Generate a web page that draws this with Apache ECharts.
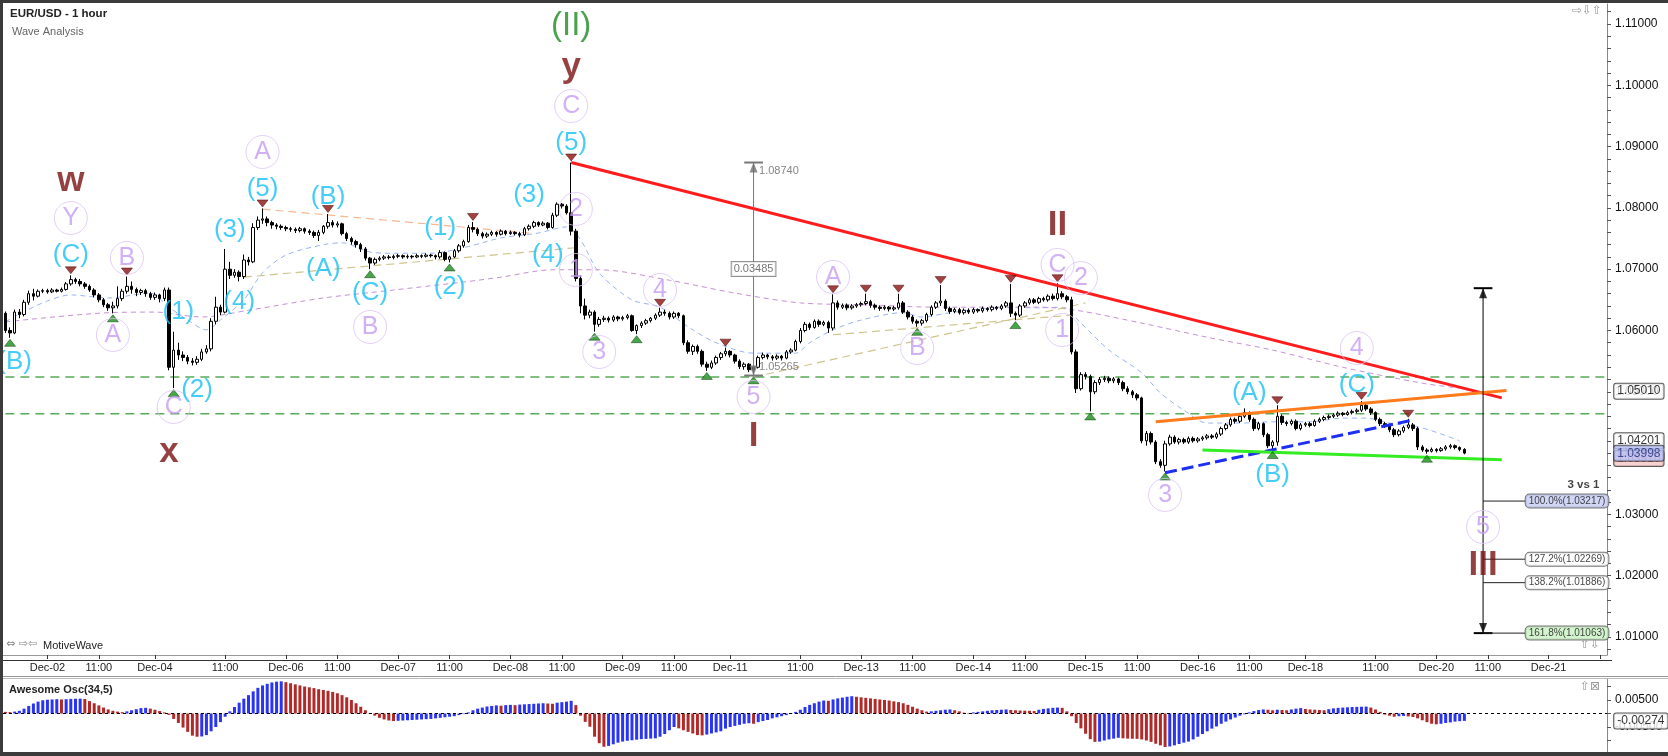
<!DOCTYPE html>
<html>
<head>
<meta charset="utf-8">
<title>EUR/USD - 1 hour</title>
<script src="https://cdn.jsdelivr.net/npm/echarts@6/dist/echarts.min.js"></script>
<style>
html, body { margin: 0; padding: 0; background: #fff; }
#chart { width: 1668px; height: 756px; }
</style>
</head>
<body>
<div id="chart"></div>
<script>
// trading sessions on the time axis: [day, first hour, last hour]
var sessions = [['Dec-01',15,23],['Dec-02',0,22],['Dec-04',20,23],['Dec-05',0,23],['Dec-06',0,23],
	['Dec-07',0,23],['Dec-08',0,23],['Dec-09',0,22],['Dec-11',20,23],['Dec-12',0,23],['Dec-13',0,23],
	['Dec-14',0,23],['Dec-15',0,23],['Dec-16',0,22],['Dec-18',20,23],['Dec-19',0,23],['Dec-20',0,23],
	['Dec-21',0,12]];
var dayLabels = ['Dec-02','Dec-04','Dec-06','Dec-07','Dec-08','Dec-09','Dec-11','Dec-13','Dec-14',
	'Dec-15','Dec-16','Dec-18','Dec-20','Dec-21'];
var hourLabel = '11:00';
var tickOnlyDay = 'Dec-21';

// hourly candles: "open close low high" in pips above 1.0000
var dec01 = ['628 600 596 631','600 596 588 605','596 630 594 634','630 626 620 635','626 646 623 650',
	'646 660 642 665','660 656 649 668','656 664 654 667','664 665 661 668'];
var dec02 = ['665 663 660 668','663 666 661 669','666 664 662 668','664 667 662 670','667 676 665 679',
	'676 683 673 690','683 680 676 686','680 676 672 684','676 672 668 679','672 666 663 675',
	'666 658 654 669','658 650 646 661','650 642 638 653','642 637 632 645','637 640 628 647',
	'640 652 636 672','652 664 648 668','664 672 660 688','672 667 660 680','667 662 656 670',
	'662 665 658 668','665 660 655 668','660 654 650 663'];
var dec04 = ['654 658 650 662','658 652 646 660','652 666 648 670','666 540 535 670'];
var dec05 = ['540 568 506 598','568 560 552 580','560 556 550 566','556 550 545 560','550 548 543 555',
	'548 553 544 558','553 565 550 570','565 570 562 576','570 615 566 620','615 638 610 655',
	'638 630 625 642','630 700 628 733','700 690 684 712','690 695 686 700','695 688 680 698',
	'688 715 684 724','715 712 706 720','712 768 710 775','768 780 764 786','780 782 774 799',
	'782 776 770 786','776 772 766 779','772 770 765 775','770 768 764 773'];
var dec06 = ['768 766 762 771','766 765 761 769','765 763 759 768','763 766 760 769','766 762 758 768',
	'762 760 756 765','760 755 751 763','755 760 746 764','760 770 757 772','770 776 766 790',
	'776 772 768 780','772 774 768 778','774 758 755 776','758 750 746 761','750 745 740 753',
	'745 740 735 748','740 733 728 743','733 718 714 736','718 710 700 720','710 716 707 719',
	'716 718 713 721','718 720 715 723','720 719 716 723','719 721 716 724'];
var dec07 = ['721 722 718 725','722 720 717 724','720 721 717 724','721 720 717 723','720 722 718 725',
	'722 721 718 724','721 723 719 726','723 722 719 725','722 720 716 724','720 727 717 731',
	'727 716 713 729','716 720 711 722','720 730 718 733','730 738 727 741','738 745 735 748',
	'745 768 743 772','768 765 760 777','765 758 754 768','758 754 750 761','754 757 751 760',
	'757 760 754 763','760 757 753 762','757 762 755 765','762 758 755 764'];
var dec08 = ['758 760 756 763','760 758 755 762','758 756 752 761','756 766 754 769','766 770 763 773',
	'770 776 767 779','776 772 769 778','772 775 770 778','775 768 765 777','768 788 766 792',
	'788 806 785 809','806 803 799 808','803 792 789 806','792 762 755 874','762 685 680 766',
	'685 640 628 690','640 625 618 652','625 630 620 634','630 610 598 633','610 618 606 622',
	'618 620 614 624','620 617 613 623','617 622 614 625','622 619 615 624'];
var dec09 = ['619 621 616 624','621 624 618 627','624 600 598 626','600 608 594 610','608 612 604 615',
	'612 616 609 619','616 620 613 622','620 625 617 628','625 630 622 637','630 628 624 634',
	'628 622 618 631','622 628 619 631','628 624 620 630','624 580 576 626','580 566 562 584',
	'566 574 560 577','574 566 562 577','566 545 541 569','545 540 534 549','540 547 537 551',
	'547 556 544 559','556 562 552 565','562 566 558 572'];
var dec11 = ['566 560 556 568','560 550 546 562','550 541 537 553','541 545 536 548'];
var dec12 = ['545 536 532 547','536 540 527 542','540 556 538 559','556 560 553 564','560 557 553 562',
	'557 555 551 560','555 558 552 561','558 555 551 560','555 565 553 568','565 568 562 571',
	'568 582 566 585','582 600 579 604','600 610 597 614','610 605 601 613','605 615 603 618',
	'615 610 606 618','610 613 607 616','613 604 596 616','604 645 600 659','645 638 634 649',
	'638 641 635 644','641 637 633 644','637 640 634 643','640 642 637 645'];
var dec13 = ['642 644 639 647','644 647 641 660','647 641 637 650','641 638 634 644','638 636 632 641',
	'636 638 633 641','638 635 631 640','635 637 632 640','637 645 634 660','645 630 627 648',
	'630 622 618 633','622 615 611 625','615 612 606 618','612 616 608 619','616 626 613 629',
	'626 638 623 641','638 645 635 648','645 648 640 674','648 636 632 651','636 631 627 639',
	'631 634 628 637','634 629 626 637','629 633 626 636','633 630 627 636'];
var dec14 = ['630 634 627 637','634 632 629 636','632 636 629 639','636 634 631 638','634 638 631 641',
	'638 636 633 640','636 640 633 643','640 645 637 648','645 628 622 676','628 625 617 631',
	'625 640 622 643','640 645 637 648','645 650 642 653','650 646 643 653','646 652 643 655',
	'652 650 647 655','650 656 647 659','656 652 649 660','652 660 649 677','660 655 651 664',
	'655 650 646 658','650 565 561 655','565 505 498 569','505 528 502 532'];
var dec15 = ['528 525 520 532','525 500 468 528','500 515 496 519','515 520 511 524','520 522 516 526',
	'522 518 514 525','518 521 514 524','521 515 511 523','515 505 501 518','505 500 496 509',
	'500 495 490 503','495 490 486 498','490 420 416 492','420 432 412 436','432 418 414 435',
	'418 386 382 421','386 380 376 390','380 415 370 420','415 426 412 430','426 418 415 429',
	'418 422 414 425','422 418 415 425','418 424 415 427','424 420 417 427'];
var dec16 = ['420 423 417 426','423 425 420 428','425 428 422 431','428 426 423 431','426 431 423 434',
	'431 440 428 443','440 446 437 449','446 455 443 458','455 452 448 458','452 460 449 463',
	'460 466 457 473','466 455 451 468','455 440 436 458','440 448 437 451','448 430 426 450',
	'430 412 408 433','412 418 405 421','418 460 412 478','460 450 446 463','450 448 444 453',
	'448 452 445 455','452 440 437 455','440 446 437 449'];
var dec18 = ['446 448 443 451','448 445 442 451','445 452 443 455','452 455 449 458'];
var dec19 = ['455 458 452 461','458 460 455 463','460 462 457 465','462 465 459 468','465 463 460 467',
	'463 466 461 469','466 468 463 471','468 470 465 473','470 478 467 485','478 472 469 481',
	'472 466 462 475','466 455 452 468','455 448 444 458','448 445 441 451','445 438 434 448',
	'438 430 426 441','430 436 427 439','436 442 433 445','442 446 439 456','446 440 436 449',
	'440 410 405 443','410 405 402 413','405 403 399 408','403 406 401 409'];
var dec20 = ['406 404 401 408','404 407 402 410','407 410 404 413','410 412 407 415','412 409 406 414',
	'409 406 403 411','406 400 398 408'];

// Awesome Osc(34,5), one bar per candle, in units of 0.0001
var aoPart1 = [6,5,7,10,18,28,37,44,49,51, 52,53,52,53,54,54.5,55,54,46,38,
	30,22,15,10,7,5,8,12,16,20, 21,18,14,9,4,-5,-20,-35,-52,-68,
	-82,-86,-85,-80,-66,-50,-32,-12,8,24, 40,55,68,82,95,104,110,115,118,119,
	116,112,108,104,100,97,94,90,87,84, 80,75,68,60,50,38,25,12,2,-8,
	-16,-22,-26,-28,-27,-26,-25,-24,-23,-22, -21,-20,-18,-16,-14,-12,-10,-6,-2,4,
	12,18,22,26];
var aoPart2 = [28,30,29,31,32,31,33,34,35,36, 37,38,37,36,40,42,44,47,31,-8,
	-31,-49,-86,-110,-123,-120,-114,-108,-104,-101, -99,-97,-95,-94,-93,-92,-86,-76,-62,-50,
	-55,-62,-68,-74,-80,-81,-78,-74,-70,-66, -56,-50,-46,-42,-38,-36,-38,-32,-28,-24,
	-18,-14,-10,-6,-2,6,14,24,32,38, 44,48,47,52,56,59,62,64,62,60,
	58,56,54,52,50,48,45,42,38,32, 25,18,12,7,8,10,12,14,15,12,
	8,3,2,4];
var aoPart3 = [6,8,10,12,13,14,15,13,12,11, 10.5,10,9,14,17,19,21,22,21,8,
	-10,-35,-55,-75,-95,-105,-104,-100,-96,-93, -90,-92,-93,-93.5,-94,-96,-100,-105,-112,-118,
	-124,-122,-118,-113,-108,-104,-96,-86,-76,-66, -56,-48,-38,-30,-22,-15,-8,-3,4,9,
	13,15,14,12,14,13,12,15,18,20, 17,15,14,13,12,16,19,21,22,23,
	24,24.5,25,25.5,22,15,6,-4,-8,-12, -10,-9,-11,-13,-18,-25,-32,-38,-40,-38,
	-35,-33,-30,-28.5,-27.4];

// moving averages: [candle index, pips above 1.0000]
var blueMa = [[0,614],[14,658],[22,653],[31,661],[35,638],[39,617],[43,601],[46,617],[51,650],[55,694],
	[60,723],[68,740],[72,743],[78,728],[83,726],[91,726],[98,735],[106,751],[114,759],[120,769],
	[123,748],[127,694],[134,650],[140,638],[146,606],[152,580],[160,563],[169,563],[172,580],[177,601],
	[183,617],[192,629],[196,622],[202,629],[213,637],[221,637],[226,638],[230,612],[236,568],[243,531],
	[247,498],[252,470],[257,449],[264,449],[271,451],[279,451],[286,457],[291,457],[296,449],[303,441],
	[311,420]];
var pinkMa = [[0,614],[22,629],[32,630],[42,622],[52,633],[68,653],[83,666],[98,679],[106,687],[117,699],
	[127,699],[142,682],[156,661],[170,645],[184,642],[199,638],[221,638],[229,633],[243,612],[257,589],
	[271,568],[286,540],[303,514],[311,506]];

// drawn lines: [candle index, price]
var redTrend = [[121, 1.0874], [320, 1.0490]];
var orangeTrend = [[246, 1.0451], [321, 1.0502]];
var blueTrend = [[248, 1.0368], [301, 1.0454]];
var greenTrend = [[256, 1.0405], [320, 1.0389]];
var tanLines = [[[51, 1.0687], [122, 1.0735]], [[160, 1.0524], [231, 1.0645]], [[177, 1.0593], [228, 1.0625]]];
var peachLine = [[55, 1.0798], [112, 1.0759]];
var greenLevels = [1.0524, 1.0464];

// swing markers: candle indexes
var highMarks = [14, 26, 55, 69, 100, 121, 140, 154, 177, 184, 191, 200, 215, 225, 272, 290, 300];
var lowMarks = [1, 23, 36, 78, 95, 126, 135, 150, 160, 195, 216, 232, 248, 271, 304];

// wave labels: [candle index, price, text]
var circleLabels = [[14,1.07835,'Y'],[26,1.07183,'B'],[23,1.05927,'A'],[36,1.04752,'C'],[55,1.08912,'A'],
	[78,1.06057,'B'],[121,1.09662,'C'],[122,1.07982,'2'],[122,1.06987,'1'],[127,1.05649,'3'],
	[140,1.06661,'4'],[160,1.04915,'5'],[177,1.06873,'A'],[195,1.05714,'B'],[225,1.07069,'C'],
	[230,1.06856,'2'],[226,1.06008,'1'],[248,1.03317,'3'],[289,1.05714,'4'],[316,1.02794,'5']];
var cyanLabels = [[2,1.05486,'(B)'],[14,1.07232,'(C)'],[37,1.06302,'(1)'],[41,1.05029,'(2)'],
	[48,1.07639,'(3)'],[50,1.06465,'(4)'],[55,1.08308,'(5)'],[69,1.08178,'(B)'],[68,1.07003,'(A)'],
	[78,1.06612,'(C)'],[93,1.07672,'(1)'],[95,1.0671,'(2)'],[112,1.0821,'(3)'],[116,1.07232,'(4)'],
	[121,1.09067,'(5)'],[266,1.0498,'(A)'],[271,1.03643,'(B)'],[289,1.05111,'(C)']];
var darkRedLabels = [[14,1.08439,'w'],[35,1.04018,'x'],[121,1.10299,'y'],[160,1.04279,'I'],
	[225,1.07713,'II'],[316,1.02174,'III']];
var greenLabels = [[121,1.1097,'(II)']];

// price measure and wave projection
var measure = { index: 160, top: 1.0874, bottom: 1.05265, texts: ['1.08740', '0.03485', '1.05265'] };
var projection = { index: 316, top: 1.0669, bottom: 1.01063, labelIndex: 325 };
var fibLevels = [['100.0%', 1.03217, '#c6ccf3'], ['127.2%', 1.02269, '#ffffff'],
	['138.2%', 1.01886, '#ffffff'], ['161.8%', 1.01063, '#c9f1c3']];
var projNote = [[341, 1.0348, '3 vs 1']];

// right axis value tags: [text, value, fill, text colour]
var priceTags = [['1.05010', 1.0501, '#ffffff', '#000'], ['1.04201', 1.04201, '#ffffff', '#000'],
	['1.03910', 1.0391, '#f6c6c6', '#a05050'], ['1.03998', 1.03998, '#b9c2f6', '#1d2a7a']];
var aoTag = ['-0.00274', -0.00274];

var priceLabels = [1.01, 1.02, 1.03, 1.04, 1.05, 1.06, 1.07, 1.08, 1.09, 1.10, 1.11];
var aoLabels = [0.005, -0.005];

window.onload = function () {

	var FONT = '"Liberation Sans", Arial, sans-serif';

	var categories = [];
	var tickText = {};
	sessions.forEach(function (s) {
		for (var h = s[1]; h <= s[2]; h++) {
			var idx = categories.length;
			var hh = (h < 10 ? '0' : '') + h + ':00';
			categories.push(s[0] + ' ' + hh);
			if (h == s[1] && dayLabels.indexOf(s[0]) >= 0) tickText[idx] = s[0];
			if (hh == hourLabel) tickText[idx] = (s[0] == tickOnlyDay) ? '' : hourLabel;
		}
	});
	var lastIndex = categories.length - 1;
	function hasTick(index) { return tickText[index] !== undefined; }

	function toPrice(p) { return 1 + p / 10000; }

	var candles = [];
	[dec01, dec02, dec04, dec05, dec06, dec07, dec08, dec09, dec11, dec12, dec13, dec14, dec15,
		dec16, dec18, dec19, dec20].forEach(function (day) {
		day.forEach(function (s) {
			candles.push(s.split(' ').map(function (n) { return toPrice(Number(n)); }));
		});
	});

	var aoValues = aoPart1.concat(aoPart2, aoPart3).map(function (v) { return v / 10000; });

	var priceTicks = [];
	for (var t = 1008; t <= 1112; t += 2) priceTicks.push(t / 1000);

	function maPoints(list) {
		return list.map(function (d) { return [d[0], toPrice(d[1])]; });
	}

	function line(points, style, z) {
		return { type: 'line', data: points, symbol: 'none', silent: true, z: z || 3,
			lineStyle: style, xAxisIndex: 0, yAxisIndex: 0 };
	}

	function texts(points, label, z) {
		return {
			type: 'scatter', silent: true, z: z || 8, symbolSize: 1,
			itemStyle: { color: 'rgba(0,0,0,0)' },
			data: points.map(function (d) { return { value: [d[0], d[1]], name: d[2] }; }),
			label: Object.assign({ show: true, position: 'inside', formatter: '{b}', fontFamily: FONT }, label)
		};
	}

	function marks(points, color, border, rotate, offset) {
		return {
			type: 'scatter', silent: true, z: 6, symbol: 'triangle', symbolSize: [11, 7],
			symbolRotate: rotate, symbolOffset: [0, offset],
			itemStyle: { color: color, borderColor: border, borderWidth: 0.6 },
			data: points
		};
	}

	function arrowHeads(idx, top, bottom, color) {
		return [
			{ type: 'scatter', silent: true, z: 5, symbol: 'triangle', symbolSize: [8, 10],
				symbolOffset: [0, 5], itemStyle: { color: color }, data: [[idx, top]] },
			{ type: 'scatter', silent: true, z: 5, symbol: 'triangle', symbolSize: [8, 10],
				symbolRotate: 180, symbolOffset: [0, -5], itemStyle: { color: color }, data: [[idx, bottom]] }
		];
	}

	function tag(text, value, fill, color, xAxisIndex, yAxisIndex) {
		var s = texts([[lastIndex, value, text]], {
			position: 'right', distance: 9, fontSize: 12, color: color, backgroundColor: fill,
			borderColor: '#333', borderWidth: 1, borderRadius: 2, padding: [2, 3, 1, 3]
		}, 20);
		s.xAxisIndex = xAxisIndex;
		s.yAxisIndex = yAxisIndex;
		return s;
	}

	var series = [];

	// moving averages and channel lines
	series.push(line(maPoints(blueMa), { color: '#98b5f6', width: 1, type: [5, 4] }, 1));
	series[series.length - 1].smooth = 0.3;
	series.push(line(maPoints(pinkMa), { color: '#c690d6', width: 1, type: [5, 4] }, 1));
	series[series.length - 1].smooth = 0.3;
	tanLines.forEach(function (l) {
		series.push(line(l, { color: '#cfc48e', width: 1.2, type: [8, 5] }, 1));
	});
	series.push(line(peachLine, { color: '#f6b892', width: 1.2, type: [8, 5] }, 1));

	// horizontal levels
	greenLevels.forEach(function (v) {
		series.push(line([[0, v], [lastIndex, v]], { color: '#58ab58', width: 1.5, type: [9, 6] }, 1));
	});

	// candles
	series.push({
		type: 'candlestick', name: 'EUR/USD', data: candles, barWidth: 3, z: 2, silent: true,
		itemStyle: { color: '#ffffff', color0: '#000000', borderColor: '#000000', borderColor0: '#000000', borderWidth: 1 }
	});

	// trend lines
	series.push(line(redTrend, { color: '#ff1c1c', width: 3 }, 4));
	series.push(line(orangeTrend, { color: '#ff7b1c', width: 3 }, 4));
	series.push(line(blueTrend, { color: '#1e2ff2', width: 3, type: [12, 5] }, 4));
	series.push(line(greenTrend, { color: '#33ec22', width: 3 }, 4));

	// measure tool
	var mi = measure.index;
	series.push(line([[mi, measure.top], [mi, measure.bottom]], { color: '#777', width: 1 }, 4));
	series.push(line([[mi - 2, measure.top], [mi + 2, measure.top]], { color: '#777', width: 2 }, 4));
	series.push(line([[mi - 2, measure.bottom], [mi + 2, measure.bottom]], { color: '#777', width: 2 }, 4));
	series = series.concat(arrowHeads(mi, measure.top, measure.bottom, '#6e6e6e'));
	series.push(texts([[mi, measure.top, measure.texts[0]]],
		{ position: 'right', distance: 5, offset: [0, 8], color: '#666', fontSize: 11 }));
	series.push(texts([[mi, (measure.top + measure.bottom) / 2, measure.texts[1]]],
		{ color: '#555', fontSize: 11, backgroundColor: '#fff', borderColor: '#777', borderWidth: 1, padding: [2, 2, 1, 2] }));
	series.push(texts([[mi, measure.bottom, measure.texts[2]]],
		{ position: 'right', distance: 5, offset: [0, -9], color: '#666', fontSize: 11 }));

	// projection tool with fibonacci targets
	var pi = projection.index;
	series.push(line([[pi, projection.top], [pi, projection.bottom]], { color: '#000', width: 1 }, 4));
	series.push(line([[pi - 2, projection.top], [pi + 2, projection.top]], { color: '#000', width: 2 }, 4));
	series.push(line([[pi - 2, projection.bottom], [pi + 2, projection.bottom]], { color: '#000', width: 2 }, 4));
	series = series.concat(arrowHeads(pi, projection.top, projection.bottom, '#000'));
	fibLevels.forEach(function (f) {
		series.push(line([[pi, f[1]], [projection.labelIndex, f[1]]], { color: '#222', width: 1 }, 4));
		series.push(texts([[projection.labelIndex, f[1], f[0] + '(' + f[1].toFixed(5) + ')']],
			{ position: 'right', distance: 0, color: '#111', fontSize: 10, backgroundColor: f[2],
				borderColor: '#555', borderWidth: 1, borderRadius: 4, padding: [2, 3, 1, 3] }));
	});
	series.push(texts(projNote, { position: 'left', distance: 0, color: '#111', fontSize: 11.5, fontWeight: 'bold' }));

	// swing markers
	series.push(marks(highMarks.map(function (i) { return [i, candles[i][3]]; }), '#8c1212', '#3d0000', 180, -5));
	series.push(marks(lowMarks.map(function (i) { return [i, candles[i][2]]; }), '#1c8e1c', '#0b3b0b', 0, 5));

	// wave labels
	series.push({
		type: 'scatter', silent: true, z: 7, symbol: 'circle', symbolSize: 33,
		itemStyle: { color: 'rgba(255,255,255,0)', borderColor: '#dcc3f8', borderWidth: 1 },
		data: circleLabels.map(function (d) { return { value: [d[0], d[1]], name: d[2] }; }),
		label: { show: true, position: 'inside', formatter: '{b}', color: '#c69cf2', fontSize: 25, fontFamily: FONT }
	});
	series.push(texts(cyanLabels, { color: '#17c1f5', fontSize: 26 }));
	series.push(texts(darkRedLabels, { color: '#7c1212', fontSize: 35, fontWeight: 'bold' }));
	series.push(texts(greenLabels, { color: '#1f8a1f', fontSize: 33 }));

	// value tags on the price axis
	priceTags.forEach(function (tg) {
		series.push(tag(tg[0], tg[1], tg[2], tg[3], 0, 0));
	});

	// Awesome oscillator
	series.push({
		type: 'bar', name: 'Awesome Osc(34,5)', xAxisIndex: 1, yAxisIndex: 1, data: aoValues, barWidth: 3, silent: true,
		itemStyle: {
			color: function (p) {
				return (p.dataIndex > 0 && aoValues[p.dataIndex] > aoValues[p.dataIndex - 1]) ? '#2a35f2' : '#b02a2a';
			}
		},
		markLine: {
			silent: true, symbol: ['none', 'none'], animation: false, label: { show: false },
			data: [{ yAxis: 0, lineStyle: { color: '#000', width: 1, type: [3, 3] } }]
		}
	});
	series.push(tag(aoTag[0], aoTag[1], '#ffffff', '#000', 1, 1));

	var option = {
		animation: false,
		backgroundColor: '#ffffff',
		textStyle: { fontFamily: FONT },
		grid: [
			{ left: 3, right: 61, top: 4, height: 651 },
			{ left: 3, right: 61, top: 679, height: 73 }
		],
		xAxis: [
			{
				type: 'category', data: categories, boundaryGap: true, gridIndex: 0,
				axisLine: { lineStyle: { color: '#999' } },
				axisTick: { show: true, interval: hasTick, alignWithLabel: true, length: 4, lineStyle: { color: '#333' } },
				axisLabel: { interval: hasTick, margin: 7, fontSize: 11, color: '#222', fontFamily: FONT,
					formatter: function (v, i) { return tickText[i] || ''; } },
				splitLine: { show: false }
			},
			{
				type: 'category', data: categories, boundaryGap: true, gridIndex: 1,
				axisLine: { show: false }, axisTick: { show: false }, axisLabel: { show: false }, splitLine: { show: false }
			}
		],
		yAxis: [
			{
				type: 'value', gridIndex: 0, position: 'right', min: 1.00706, max: 1.11326,
				axisLine: { show: true, lineStyle: { color: '#888' } },
				axisTick: { show: true, customValues: priceTicks, length: 4, lineStyle: { color: '#555' } },
				axisLabel: { customValues: priceLabels, margin: 8, fontSize: 12, color: '#111', fontFamily: FONT,
					formatter: function (v) { return v.toFixed(5); } },
				splitLine: { show: false }
			},
			{
				type: 'value', gridIndex: 1, position: 'right', min: -0.014259, max: 0.012778,
				axisLine: { show: true, lineStyle: { color: '#888' } },
				axisTick: { show: true, customValues: [-0.01, -0.005, 0, 0.005, 0.01], length: 4, lineStyle: { color: '#555' } },
				axisLabel: { customValues: aoLabels, margin: 8, fontSize: 12, color: '#111', fontFamily: FONT,
					formatter: function (v) { return v.toFixed(5); } },
				splitLine: { show: false }
			}
		],
		graphic: [
			{ type: 'rect', shape: { x: 0, y: 0, width: 1668, height: 3 }, style: { fill: '#3b3b3b' }, z: 100, silent: true },
			{ type: 'rect', shape: { x: 0, y: 0, width: 3, height: 756 }, style: { fill: '#3b3b3b' }, z: 100, silent: true },
			{ type: 'rect', shape: { x: 0, y: 752, width: 1668, height: 4 }, style: { fill: '#3b3b3b' }, z: 100, silent: true },
			{ type: 'line', shape: { x1: 3, y1: 660.5, x2: 1612, y2: 660.5 }, style: { stroke: '#333', lineWidth: 1 }, z: 50, silent: true },
			{ type: 'line', shape: { x1: 3, y1: 676.5, x2: 1668, y2: 676.5 }, style: { stroke: '#999', lineWidth: 1 }, z: 50, silent: true },
			{ type: 'line', shape: { x1: 3, y1: 678.5, x2: 1668, y2: 678.5 }, style: { stroke: '#bbb', lineWidth: 1 }, z: 50, silent: true },
			{ type: 'text', left: 10, top: 8, style: { text: 'EUR/USD - 1 hour', font: 'bold 11.5px ' + FONT, fill: '#222' }, z: 60 },
			{ type: 'text', left: 12, top: 26, style: { text: 'Wave Analysis', font: '11px ' + FONT, fill: '#666' }, z: 60 },
			{ type: 'text', left: 6, top: 639, style: { text: '\u21d4 \u21e8\u21e6', font: '11px "DejaVu Sans", sans-serif', fill: '#888' }, z: 60 },
			{ type: 'text', left: 43, top: 640, style: { text: 'MotiveWave', font: '11px ' + FONT, fill: '#222' }, z: 60 },
			{ type: 'text', left: 1572, top: 5, style: { text: '\u21e8\u21e9\u21e7', font: '12px "DejaVu Sans", sans-serif', fill: '#999' }, z: 60 },
			{ type: 'text', left: 1580, top: 639, style: { text: '\u21e7\u21e9', font: '12px "DejaVu Sans", sans-serif', fill: '#999' }, z: 60 },
			{ type: 'text', left: 1580, top: 681, style: { text: '\u21e7\u22a0', font: '12px "DejaVu Sans", sans-serif', fill: '#999' }, z: 60 },
			{ type: 'text', left: 9, top: 684, style: { text: 'Awesome Osc(34,5)', font: 'bold 11px ' + FONT, fill: '#222' }, z: 60 }
		],
		series: series
	};

	var chart = echarts.init(document.getElementById('chart'));
	chart.setOption(option);
};
</script>
</body>
</html>
